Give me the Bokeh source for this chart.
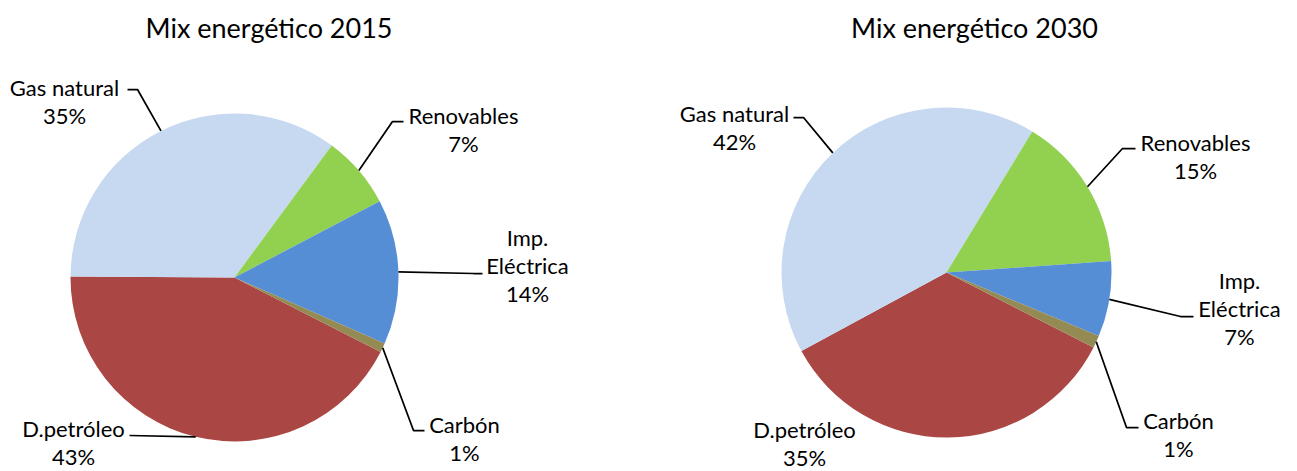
import math
from bokeh.plotting import figure
from bokeh.models import Range1d
from bokeh.core.properties import value
from bokeh.embed import file_html
from bokeh.resources import INLINE

# ---------------- data ----------------
categories = ["D.petróleo", "Gas natural", "Renovables", "Imp. Eléctrica", "Carbón"]
label_lines = [["D.petróleo"], ["Gas natural"], ["Renovables"], ["Imp.", "Eléctrica"], ["Carbón"]]
values_2015 = [42.6, 35.0, 7.2, 14.3, 0.9]
values_2030 = [34.6, 41.6, 15.2, 7.4, 1.2]
titles = ["Mix  energético 2015", "Mix energético 2030"]

# ---------------- styles / layout ----------------
colors = ["#AA4644", "#C6D9F1", "#92D050", "#558ED5", "#948A54"]
FONT = "Lato"
W, H = 1297, 471
START = 117.0  # first slice angle, degrees clockwise from 12 o'clock


def X(sx):
    return sx


def Y(sy):
    return H - sy


charts = [
    dict(values=values_2015, title=titles[0], title_x=272, cx=234, cy=277, r=164,
         labels=[(73, 428, (129, 435), (129, 435)),
                 (64, 87, (137, 89), (127, 89)),
                 (463, 115, (392, 121), (403, 121)),
                 (527, 237, (473, 273), (482, 273)),
                 (464, 424, (413, 430), (424, 430))]),
    dict(values=values_2030, title=titles[1], title_x=974, cx=946, cy=272, r=165,
         labels=[(804, 429, None, None),
                 (734, 113, (803, 117), (793, 117)),
                 (1195, 142, (1122, 148), (1135, 148)),
                 (1239, 280, (1180, 316), (1193, 316)),
                 (1178, 420, (1126, 427), (1138, 427))]),
]

p = figure(width=W, height=H, output_backend="svg", toolbar_location=None,
           x_range=Range1d(0, W), y_range=Range1d(0, H), min_border=0)
p.axis.visible = False
p.grid.visible = False
p.outline_line_color = None
p.background_fill_color = "white"
p.border_fill_color = "white"

LINE_H = 28

for ch in charts:
    vals = ch["values"]
    total = sum(vals)
    cx, cy, r = X(ch["cx"]), Y(ch["cy"]), ch["r"]
    a = START
    starts, ends, mids = [], [], []
    for v in vals:
        a2 = a + 360.0 * v / total
        starts.append(a)
        ends.append(a2)
        mids.append((a + a2) / 2)
        a = a2
    # wedges: convert clockwise-from-north to bokeh ccw-from-east
    p.wedge(x=[cx] * len(vals), y=[cy] * len(vals), radius=r,
            start_angle=[math.radians(90 - e) for e in ends],
            end_angle=[math.radians(90 - s) for s in starts],
            direction="anticlock", fill_color=colors, line_color=None)
    # title
    p.text(x=[X(ch["title_x"])], y=[Y(27)], text=[ch["title"]],
           text_font=value(FONT), text_font_size="27px", text_color="#000000",
           text_align="center", text_baseline="middle")
    # labels and leader lines
    for i, (lx, ly, elbow, end) in enumerate(ch["labels"]):
        lines = label_lines[i] + [f"{round(vals[i])}%"]
        for k, t in enumerate(lines):
            p.text(x=[X(lx)], y=[Y(ly + k * LINE_H)], text=[t],
                   text_font=value(FONT), text_font_size="22px", text_color="#000000",
                   text_align="center", text_baseline="middle")
        if elbow is not None:
            m = math.radians(mids[i])
            ex = cx + r * math.sin(m)
            ey = cy + r * math.cos(m)
            p.line(x=[ex, X(elbow[0]), X(end[0])], y=[ey, Y(elbow[1]), Y(end[1])],
                   line_color="#000000", line_width=1.75)

open("out.html", "w").write(file_html(p, INLINE))
